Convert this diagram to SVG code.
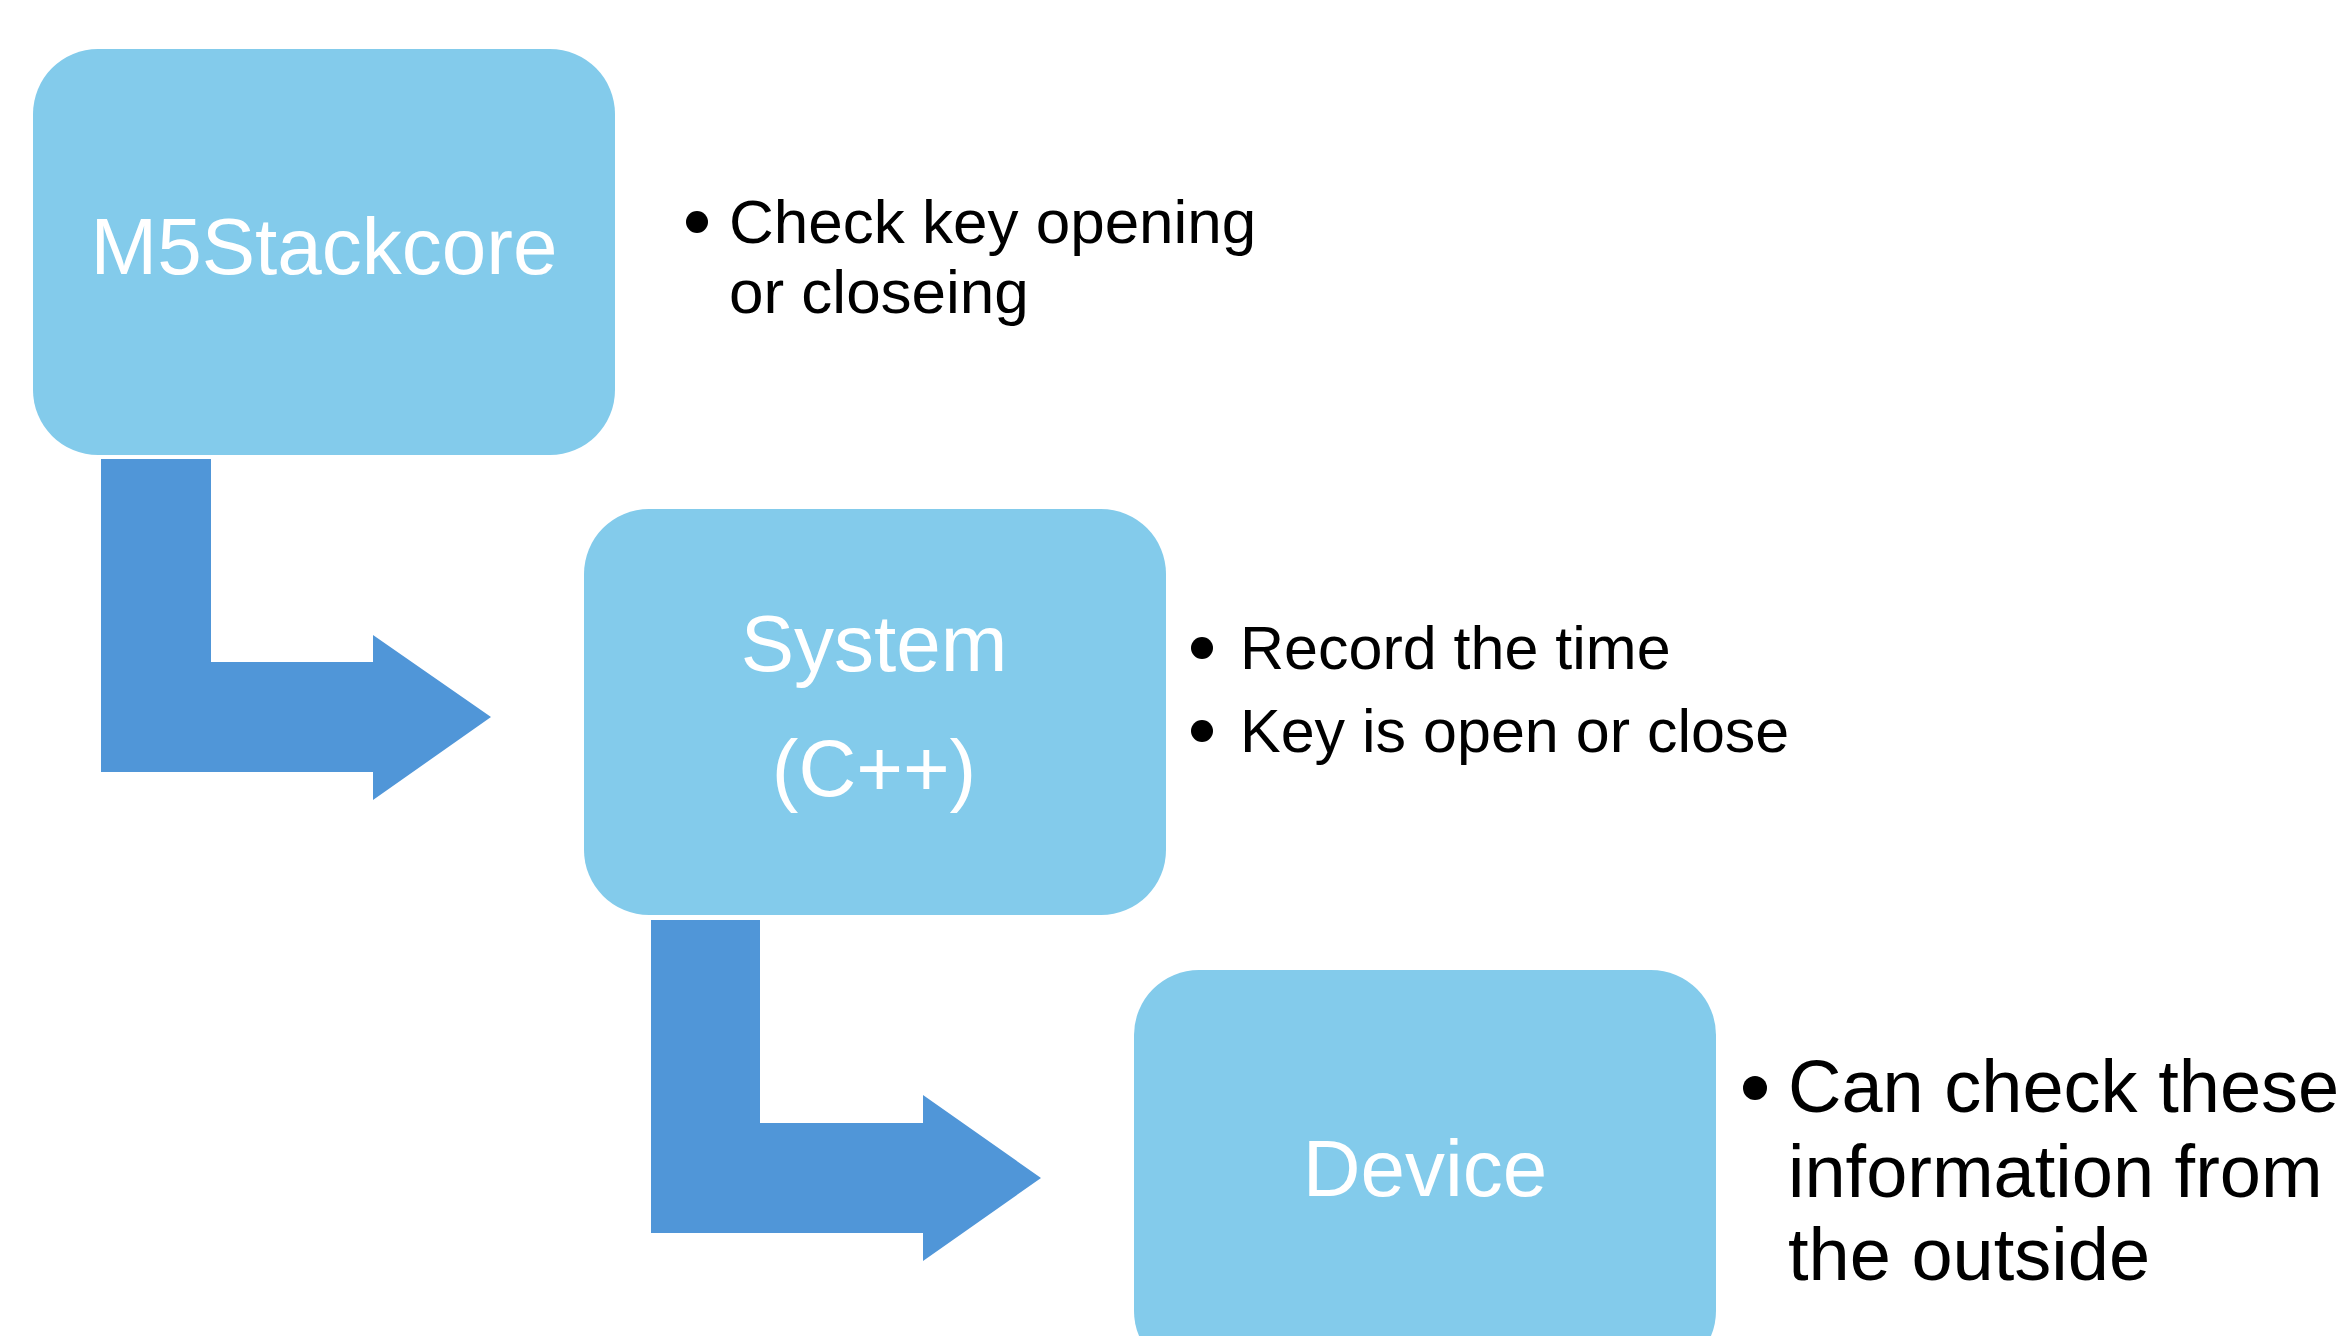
<svg xmlns="http://www.w3.org/2000/svg" width="2347" height="1336" viewBox="0 0 2347 1336">
<style>
.box{fill:#83CBEB;}
.arrow{fill:#5096D8;}
.lbl{font-family:"Liberation Sans",Arial,sans-serif;font-size:80px;fill:#FFFFFF;text-anchor:middle;}
.txt{font-family:"Liberation Sans",Arial,sans-serif;font-size:61px;fill:#000000;}
.txt1{font-family:"Liberation Sans",Arial,sans-serif;font-size:62px;fill:#000000;}
.txt3{font-family:"Liberation Sans",Arial,sans-serif;font-size:74px;fill:#000000;}
.dot{fill:#000000;}
</style>
<rect width="2347" height="1336" fill="#FFFFFF"/>
<g id="connectors">
<polygon class="arrow" points="101,459 211,459 211,662 373,662 373,635 491,717 373,800 373,772 101,772"/>
<polygon class="arrow" points="651,920 760,920 760,1123 923,1123 923,1095 1041,1178 923,1261 923,1233 651,1233"/>
</g>
<g id="node-m5stackcore">
<rect class="box" x="33" y="49" width="582" height="406" rx="65" ry="65"/>
<text class="lbl" x="324" y="274">M5Stackcore</text>
</g>
<g id="note-m5stackcore">
<circle class="dot" cx="697" cy="222" r="11"/>
<text class="txt1" x="729" y="243">Check key opening</text>
<text class="txt1" x="729" y="313">or closeing</text>
</g>
<g id="node-system">
<rect class="box" x="584" y="509" width="582" height="406" rx="65" ry="65"/>
<text class="lbl" x="874" y="671">System</text>
<text class="lbl" x="874" y="796">(C++)</text>
</g>
<g id="note-system">
<circle class="dot" cx="1202" cy="648" r="11"/>
<text class="txt" x="1240" y="669">Record the time</text>
<circle class="dot" cx="1202" cy="731" r="11"/>
<text class="txt" x="1240" y="752">Key is open or close</text>
</g>
<g id="node-device">
<rect class="box" x="1134" y="970" width="582" height="406" rx="65" ry="65"/>
<text class="lbl" x="1425" y="1196">Device</text>
</g>
<g id="note-device">
<circle class="dot" cx="1755" cy="1088" r="12"/>
<text class="txt3" x="1788" y="1112">Can check these</text>
<text class="txt3" x="1788" y="1197">information from</text>
<text class="txt3" x="1788" y="1280">the outside</text>
</g>
</svg>
